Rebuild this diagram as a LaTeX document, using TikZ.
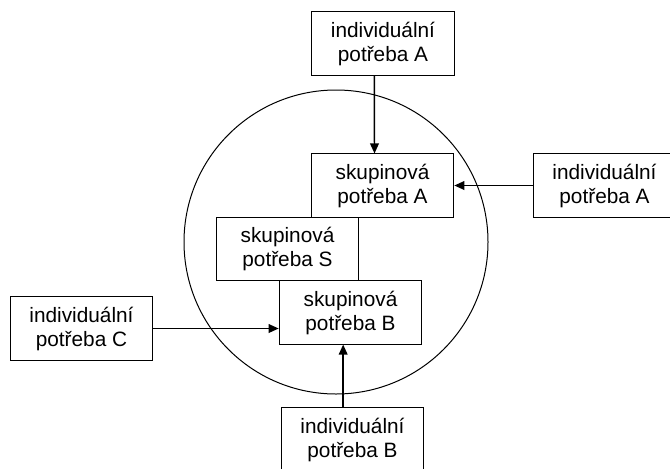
\documentclass[tikz,border=0pt]{standalone}
\usepackage{fontspec}
\setmainfont{Liberation Sans}
\usetikzlibrary{shapes.geometric, arrows.meta}
\tikzstyle{need} = [rectangle, minimum width=107pt, minimum height=47.3pt, inner sep=0, align=center, draw=black, line width=0.75pt, fill=white, font=\fontsize{15.6}{18}\selectfont]
\tikzstyle{ring} = [circle, minimum size=228pt, inner sep=0, draw=black, line width=0.75pt]
\tikzstyle{arrow} = [line width=1.1pt,-{Triangle[length=7.5pt,width=6.5pt]}]
\begin{document}
\begin{tikzpicture}[x=0.75pt,y=-0.75pt]
\useasboundingbox (0,0) rectangle (670,468);
\node[ring] (grp) at (336,242) {};

\node[need] (grpA) at (382.5,185.5) {skupinová\\potřeba A};
\node[need] (grpS) at (287.5,249) {skupinová\\potřeba S};
\node[need] (grpB) at (350.5,312.5) {skupinová\\potřeba B};

\node[need] (indA) at (383,43.5) {individuální\\potřeba A};
\node[need] (indA2) at (604.5,185.5) {individuální\\potřeba A};
\node[need] (indC) at (81.5,328.5) {individuální\\potřeba C};
\node[need] (indB) at (352.5,439.5) {individuální\\potřeba B};

\draw[arrow] ([xshift=-6.5pt]indA.south) -- ([xshift=-6pt]grpA.north);
\draw[arrow] (indA2.west) -- (grpA.east);
\draw[arrow] (indC.east) -- (indC.east -| grpB.west);
\draw[arrow] ([xshift=-7pt]indB.north) -- ([xshift=-7pt]indB.north |- grpB.south);
\end{tikzpicture}
\end{document}
